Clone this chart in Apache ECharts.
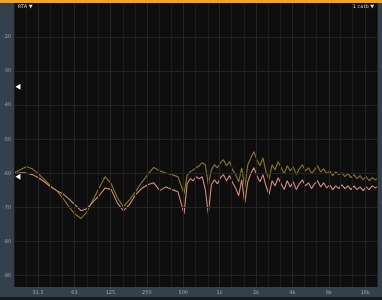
<!DOCTYPE html>
<html><head><meta charset="utf-8">
<script src="https://cdn.jsdelivr.net/npm/echarts@6/dist/echarts.min.js"></script>
<style>html,body{margin:0;padding:0;background:#0b0b0b;}#c{width:382px;height:300px;}</style>
</head><body><div id="c"></div>
<script>
const freqs = [20,22.4,25.2,28.3,31.7,35.6,40,44.9,50.4,56.6,63.5,71.3,80,89.8,100.8,113,127,142.5,160,179.6,201.6,226,254,285,320,359,403,452,508,
538,570,604,640,678,718,761,806,854,905,959,1016,1076,1140,1208,1280,1356,1437,1522,1613,1709,1810,1918,2032,2153,2281,2417,2560,2713,2874,3045,3226,3418,3621,3836,4064,4306,4562,4833,5120,5425,5747,6089,6451,6834,7241,7671,8127,8611,9123,9665,10240,10849,11494,12177,12901,13669,14482,15342,16255,17222,18246,19331,20000];
const oliveTrace = [-59.9,-59.0,-58.1,-58.7,-60.1,-61.9,-63.7,-65.1,-67.2,-69.8,-71.9,-73.3,-71.3,-67.8,-64.3,-61.0,-63.1,-67.2,-69.8,-67.8,-65.4,-62.8,-60.4,-58.3,-59.3,-59.9,-60.4,-61.0,-66.0,
-60.7,-59.6,-59.0,-58.4,-57.8,-56.9,-57.5,-63.4,-59.0,-57.5,-58.4,-56.9,-56.0,-57.8,-56.6,-59.0,-60.4,-62.5,-58.4,-64.3,-57.5,-55.5,-53.7,-56.0,-57.8,-55.5,-59.6,-61.9,-57.5,-59.0,-56.6,-58.4,-60.1,-57.8,-59.3,-58.1,-60.4,-58.7,-57.5,-59.3,-58.4,-60.1,-59.0,-57.8,-59.6,-58.7,-60.1,-59.3,-60.7,-59.6,-60.4,-59.9,-61.0,-60.1,-61.3,-60.4,-61.6,-60.7,-61.9,-61.0,-62.2,-61.3,-61.9,-61.6];
const pinkTrace = [-60.1,-59.9,-59.9,-60.4,-61.3,-62.5,-64.0,-65.1,-66.0,-67.5,-69.2,-71.0,-70.4,-68.4,-66.6,-64.3,-64.8,-68.7,-71.0,-69.2,-66.3,-64.5,-63.4,-62.8,-65.1,-64.0,-64.8,-65.4,-71.9,
-63.1,-61.6,-62.2,-61.0,-61.6,-61.0,-64.8,-71.9,-63.4,-61.9,-63.1,-61.3,-60.4,-62.2,-60.7,-62.8,-64.3,-66.6,-61.9,-68.7,-62.5,-60.1,-58.4,-60.7,-62.5,-60.4,-63.7,-66.3,-62.2,-63.7,-61.3,-63.1,-64.8,-62.2,-64.0,-62.5,-64.8,-63.1,-61.9,-63.7,-62.8,-64.5,-63.1,-62.2,-64.0,-62.8,-64.3,-63.4,-64.8,-63.7,-64.5,-63.4,-64.5,-63.7,-64.8,-63.7,-64.8,-64.0,-65.1,-64.0,-64.8,-63.7,-64.3,-64.0];
const xTickValues = [31.5,63,125,250,500,1000,2000,4000,8000,16000];
const xTickLabels = ['31.5','63','125','250','500','1k','2k','4k','8k','16k'];
const yTickValues = [-20,-30,-40,-50,-60,-70,-80,-90];
const thirdOctaveLines = [20,25,40,50,80,100,160,200,315,400,630,800,1250,1600,2500,3150,5000,6300,10000,12500,20000];
const levelMarkers = [-34.6,-61.0];

const chart = echarts.init(document.getElementById('c'), null, {renderer:'canvas'});
const pts = a => freqs.map((f,i)=>[f,a[i]]);
chart.setOption({
  backgroundColor:'#0b0b0b',
  animation:false,
  graphic:[
    {type:'rect', shape:{x:0,y:0,width:382,height:3}, style:{fill:'#f2a324'}, z:-1},
    {type:'rect', shape:{x:0,y:3,width:14,height:294}, style:{fill:'#34404c'}, z:-1},
    {type:'rect', shape:{x:0,y:287,width:382,height:10}, style:{fill:'#34404c'}, z:-1},
    {type:'rect', shape:{x:377,y:3,width:5,height:294}, style:{fill:'#34404c'}, z:-1},
    {type:'rect', shape:{x:0,y:297,width:382,height:3}, style:{fill:'#15191d'}, z:-1},
    {type:'text', left:18, top:4, style:{text:'RTA ▼', fill:'#d8d8d8', font:'5px "DejaVu Sans"'}, z:10},
    {type:'text', right:8, top:4, style:{text:'1 catb ▼', fill:'#d8d8d8', font:'5px "DejaVu Sans"'}, z:10}
  ],
  grid:{left:14, right:5, top:3, bottom:13, show:true, backgroundColor:'#0e0e0e', borderWidth:0},
  xAxis:{type:'log', logBase:10, min:20, max:20000,
    axisLine:{show:false}, axisTick:{show:false}, splitLine:{show:false}, minorSplitLine:{show:false},
    axisLabel:{customValues:xTickValues, margin:3, color:'#9aa6b2', fontSize:5, fontFamily:'DejaVu Sans',
      formatter:v=>{const i=xTickValues.findIndex(t=>Math.abs(t-v)<1e-6);return i>=0?xTickLabels[i]:'';}}
  },
  yAxis:{type:'value', min:-93.4, max:-10,
    axisLine:{show:false}, axisTick:{show:false}, splitLine:{show:false},
    axisLabel:{customValues:yTickValues, margin:3, color:'#9aa6b2', fontSize:5, fontFamily:'DejaVu Sans'}
  },
  series:[
    {type:'line', data:[], z:1, silent:true,
      markLine:{silent:true, symbol:'none', animation:false, label:{show:false},
        data:[
          ...thirdOctaveLines.map(v=>({xAxis:v, lineStyle:{color:'#1c1c1c', width:1, type:'solid'}})),
          ...xTickValues.map(v=>({xAxis:v, lineStyle:{color:'#252525', width:1, type:'solid'}})),
          ...yTickValues.map(v=>({yAxis:v, lineStyle:{color:'#242424', width:1, type:'solid'}}))
        ]}
    },
    {type:'line', name:'olive', data:pts(oliveTrace), showSymbol:false, z:3,
      lineStyle:{color:'#8a7828', width:1.1}, itemStyle:{color:'#8a7828'}},
    {type:'line', name:'pink', data:pts(pinkTrace), showSymbol:false, z:4,
      lineStyle:{color:'#d98e80', width:1.1}, itemStyle:{color:'#d98e80'},
      markPoint:{silent:true, symbol:'triangle', symbolRotate:90, symbolSize:[6,5], itemStyle:{color:'#ffffff'}, label:{show:false},
        data:levelMarkers.map(v=>({coord:[21.5, v]}))}
    }
  ]
});
</script></body></html>
